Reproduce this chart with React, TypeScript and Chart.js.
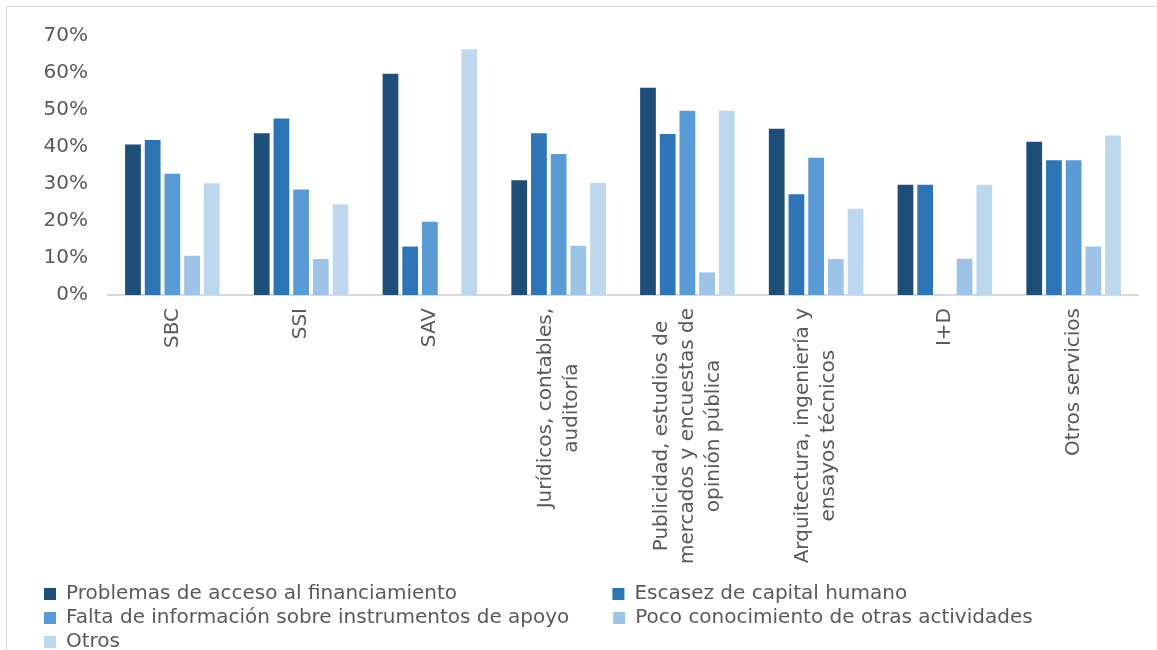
import React, { useEffect, useRef } from 'react';
import { Chart, registerables, CategoryScale } from 'chart.js';

Chart.register(...registerables);

const categories: (string | string[])[] = [
  'SBC',
  'SSI',
  'SAV',
  ['Jurídicos, contables,', 'auditoría'],
  ['Publicidad, estudios de', 'mercados y encuestas de', 'opinión pública'],
  ['Arquitectura, ingeniería y', 'ensayos técnicos'],
  'I+D',
  'Otros servicios',
];

const seriesNames = [
  'Problemas de acceso al financiamiento',
  'Escasez de capital humano',
  'Falta de información sobre instrumentos de apoyo',
  'Poco conocimiento de otras actividades',
  'Otros',
];

const problemasFinanciamiento = [40.7, 43.7, 59.8, 31.0, 56.0, 44.9, 29.8, 41.4];
const escasezCapitalHumano = [41.9, 47.7, 13.1, 43.7, 43.5, 27.2, 29.8, 36.4];
const faltaInformacion = [32.8, 28.5, 19.8, 38.1, 49.8, 37.1, 0, 36.4];
const pocoConocimiento = [10.6, 9.7, 0, 13.3, 6.1, 9.7, 9.8, 13.1];
const otros = [30.2, 24.5, 66.4, 30.3, 49.8, 23.3, 29.8, 43.1];

const yTicks = [0, 10, 20, 30, 40, 50, 60, 70];

const seriesColors = ['#1F4E79', '#2E75B6', '#5B9BD5', '#9DC3E6', '#BDD7EE'];

const FONT = '"DejaVu Sans", sans-serif';
const TEXT = '#595959';

class CenteredCategoryScale extends (CategoryScale as any) {
  _computeLabelItems(chartArea: any) {
    const items = super._computeLabelItems(chartArea);
    const ctx = this.ctx as CanvasRenderingContext2D;
    items.forEach((item: any) => {
      const lines: string[] = Array.isArray(item.label) ? item.label : [item.label];
      ctx.save();
      ctx.font = item.font.string;
      const maxW = Math.max(...lines.map((l) => ctx.measureText(l).width));
      ctx.restore();
      const lh = item.font.lineHeight;
      const [x, y] = item.options.translation;
      item.options.translation = [x - ((lines.length - 1) * lh) / 2, y + maxW / 2];
      item.options.textAlign = 'center';
    });
    return items;
  }
}
(CenteredCategoryScale as any).id = 'centeredCategory';
(CenteredCategoryScale as any).defaults = (CategoryScale as any).defaults;
Chart.register(CenteredCategoryScale as any);

export default function App() {
  const ref = useRef<HTMLCanvasElement | null>(null);

  useEffect(() => {
    if (!ref.current) return;
    const values = [problemasFinanciamiento, escasezCapitalHumano, faltaInformacion, pocoConocimiento, otros];
    const legendFontSize = 20;
    const legendFont = `normal ${legendFontSize}px ${FONT}`;
    const colTextWidth = 542;

    const chart = new Chart(ref.current, {
      type: 'bar',
      data: {
        labels: categories as any,
        datasets: seriesNames.map((name, i) => ({
          label: name,
          data: values[i],
          backgroundColor: seriesColors[i],
          borderWidth: 0,
          categoryPercentage: 0.765,
          barPercentage: 0.8,
        })),
      },
      options: {
        animation: false,
        responsive: false,
        maintainAspectRatio: false,
        layout: { padding: { left: 40, right: 19, top: 36, bottom: 2 } },
        plugins: {
          title: { display: false },
          tooltip: { enabled: false },
          legend: {
            display: true,
            position: 'bottom',
            align: 'start',
            labels: {
              boxWidth: 12,
              boxHeight: 12,
              padding: 4,
              color: TEXT,
              font: { family: FONT, size: legendFontSize },
              generateLabels: (c: any) => {
                const base = (Chart as any).defaults.plugins.legend.labels.generateLabels(c);
                const ctx = c.ctx as CanvasRenderingContext2D;
                ctx.save();
                ctx.font = legendFont;
                let pad = '\u200A';
                if (ctx.measureText(pad).width < 0.5) pad = ' ';
                base.forEach((item: any, i: number) => {
                  if (i % 2 === 0) {
                    let t = item.text;
                    let guard = 0;
                    while (ctx.measureText(t).width < colTextWidth && guard < 500) {
                      t += pad;
                      guard++;
                    }
                    item.text = t;
                  }
                });
                ctx.restore();
                return base;
              },
            },
          },
        },
        scales: {
          x: {
            type: 'centeredCategory' as any,
            grid: { display: false, drawTicks: false },
            border: { display: true, color: '#D9D9D9', width: 2 },
            ticks: {
              autoSkip: false,
              minRotation: 90,
              maxRotation: 90,
              padding: 13,
              color: TEXT,
              font: { family: FONT, size: 20, lineHeight: 1.3 },
            },
            afterFit: (s: any) => {
              s.height = 285;
            },
          } as any,
          y: {
            min: 0,
            max: 70,
            grid: { display: false, drawTicks: false },
            border: { display: false },
            afterBuildTicks: (s: any) => {
              s.ticks = yTicks.map((v) => ({ value: v }));
            },
            ticks: {
              padding: 20,
              color: TEXT,
              font: { family: FONT, size: 20 },
              callback: (v: any) => `${v}%`,
            },
            afterFit: (s: any) => {
              s.width = 68;
            },
          },
        },
      },
    });
    return () => chart.destroy();
  }, []);

  return (
    <div style={{ position: 'fixed', left: 0, top: 0, width: 1157, height: 650, overflow: 'hidden', background: '#fff' }}>
      <div
        style={{
          position: 'absolute',
          left: 6,
          top: 6,
          width: 1200,
          height: 700,
          border: '1.5px solid #D9D9D9',
          boxSizing: 'border-box',
        }}
      />
      <canvas ref={ref} width={1157} height={664} style={{ position: 'absolute', left: 0, top: 0, width: 1157, height: 664 }} />
    </div>
  );
}
